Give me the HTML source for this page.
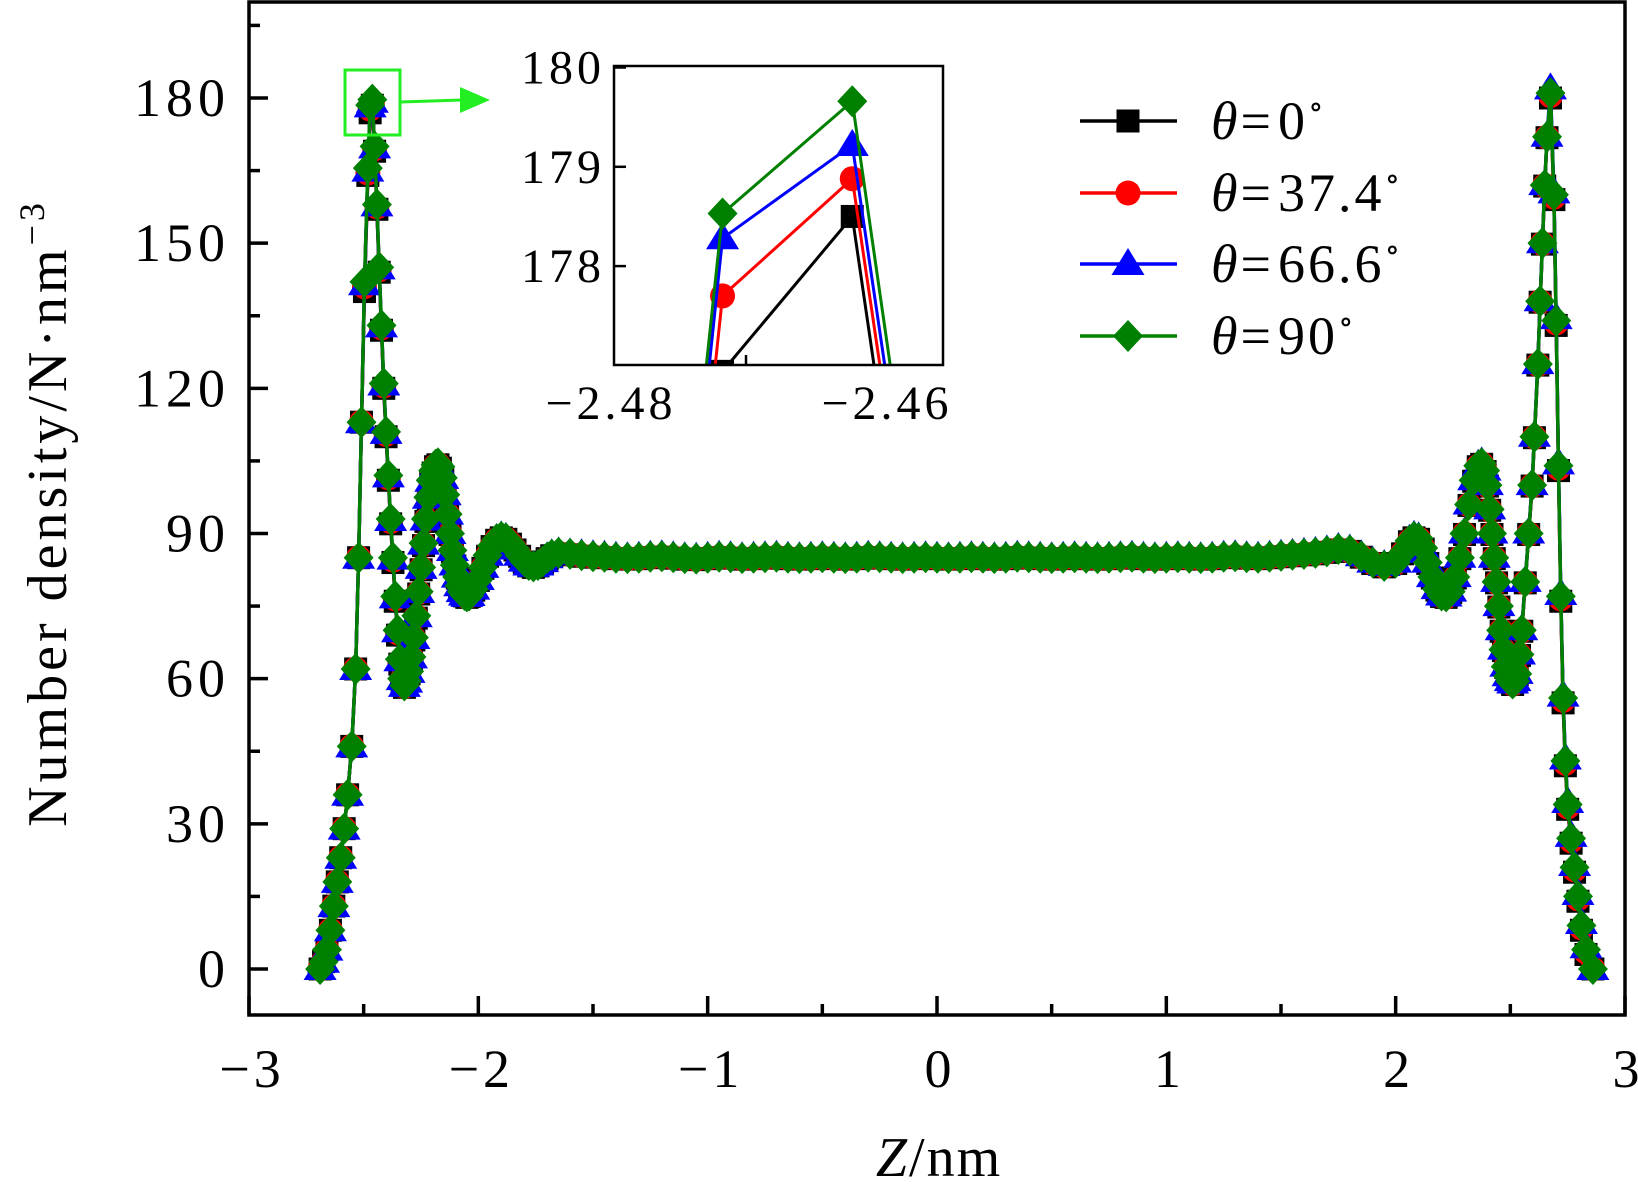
<!DOCTYPE html>
<html><head><meta charset="utf-8"><style>
html,body{margin:0;padding:0;background:#fff;width:1638px;height:1191px;overflow:hidden}
svg{display:block}
text{font-family:"Liberation Serif","DejaVu Serif",serif;fill:#000}
</style></head><body>
<svg id="chart" width="1638" height="1191" viewBox="0 0 1638 1191" xmlns="http://www.w3.org/2000/svg">
<defs><clipPath id="mainClip"><rect x="249" y="2" width="1376" height="1013"/></clipPath>
<clipPath id="insetClip"><rect x="614" y="66" width="329" height="299"/></clipPath></defs>
<rect x="0" y="0" width="1638" height="1191" fill="#fff"/>
<g id="mainSeries" clip-path="url(#mainClip)"></g>
<rect x="249" y="2" width="1376" height="1013" fill="none" stroke="#000" stroke-width="3.5"/>
<g id="axes"></g>
<text x="939" y="1176" font-size="56" letter-spacing="2" text-anchor="middle"><tspan font-style="italic">Z</tspan>/nm</text>
<text transform="translate(66,513) rotate(-90)" font-size="56" letter-spacing="4" text-anchor="middle">Number density/N·nm<tspan dy="-22" font-size="36">−3</tspan></text>
<rect x="345" y="70" width="55" height="65" fill="none" stroke="#22ee22" stroke-width="3"/>
<line x1="400" y1="102" x2="462" y2="100" stroke="#22ee22" stroke-width="3"/>
<polygon points="460,87 490,100 460,113" fill="#22ee22"/>
<rect x="614" y="66" width="329" height="299" fill="#fff"/>
<g id="insetSeries" clip-path="url(#insetClip)"></g>
<rect x="614" y="66" width="329" height="299" fill="none" stroke="#000" stroke-width="2.5"/>
<g id="insetAxes"></g>
<g id="legend"></g>
</svg>
<script>
const zValues=[-2.69,-2.675,-2.66,-2.645,-2.63,-2.615,-2.6,-2.585,-2.57,-2.552,-2.535,-2.522,-2.5095,-2.4965,-2.4817,-2.4717,-2.4623,
-2.4523,-2.4423,-2.4323,-2.4223,-2.4123,-2.4023,-2.3923,-2.3823,-2.3723,-2.3623,-2.3523,-2.3423,-2.3323,-2.3223,
-2.3125,-2.302,-2.2915,-2.281,-2.2705,-2.26,-2.2495,-2.239,-2.2285,-2.218,-2.2075,-2.197,-2.1865,-2.176,-2.1655,-2.155,-2.1445,-2.134,-2.1235,-2.113,-2.1025,-2.092,-2.0815,-2.071,-2.0605,-2.05,-2.04,
-2.02,-2,-1.98,-1.96,-1.94,-1.92,-1.9,-1.88,-1.86,-1.84,-1.82,-1.8,-1.78,-1.76,-1.74,-1.72,-1.7,-1.68,-1.65,-1.6,
-1.55,-1.5,-1.45,-1.4,-1.35,-1.3,-1.25,-1.2,-1.15,-1.1,-1.05,-1,-0.95,-0.9,-0.85,-0.8,-0.75,-0.7,-0.65,-0.6,-0.55,-0.5,-0.45,-0.4,-0.35,-0.3,-0.25,-0.2,-0.15,-0.1,-0.05,0,0.05,0.1,0.15,0.2,0.25,0.3,0.35,0.4,0.45,0.5,0.55,0.6,0.65,0.7,0.75,0.8,0.85,0.9,0.95,1,1.05,1.1,1.15,1.2,1.25,1.3,1.35,1.4,1.45,1.5,1.55,
1.6,1.65,1.7,1.75,1.8,1.85,1.9,1.95,2,2.03,2.06,2.08,2.1,2.12,2.14,2.16,2.18,2.2,2.22,2.24,2.26,2.28,2.3,2.32,2.34,2.36,2.375,2.39,2.4,2.41,2.42,2.43,2.44,2.45,2.46,2.47,2.48,2.49,2.5,2.51,2.52,2.53,2.54,2.55,2.565,2.58,2.595,2.605,2.62,2.63,2.64,2.65,2.66,2.675,2.69,2.7,2.71,2.72,2.73,2.74,2.75,2.765,2.78,2.795,2.81,2.83,2.86];

const densityTheta0=[0,1.5,4,8,13,18,23,29,36,46,62,85,113,140,164,176.94,178.5,
169,157,144,132,120,110,101,92,84,76,69,63,59.5,58.2,
59,61,64,68,72.5,77.5,82.5,87.5,92.5,97,100.5,102.5,103.8,104.2,103.5,101.2,97.8,93.8,89.8,86.3,83.3,80.8,79,77.8,77.1,76.8,77,
78.3,80.3,82.8,85.3,87.3,88.6,89.1,88.8,87.8,86.6,85.3,84.1,83.3,83,83.3,84,84.8,85.4,85.8,85.6,
85.3,85.1,85,84.8,84.7,84.8,85,85.1,84.9,84.7,84.6,84.8,85,84.9,84.7,84.8,84.9,85,84.8,84.7,84.8,84.9,84.8,84.7,84.8,85,84.9,84.8,84.7,84.8,84.9,84.8,84.7,84.8,84.9,84.8,84.7,84.8,85,84.9,84.8,84.7,84.8,84.9,84.8,84.7,84.8,84.9,85,84.8,84.7,84.8,84.9,84.8,84.7,84.8,85,85.1,84.9,84.8,85,85.2,85.4,
85.6,85.8,86.1,86.6,86.3,85.1,83.8,83.1,83.8,85.8,88.3,89.1,88.8,86.8,83.8,80.8,78.3,77,76.8,77.8,80.8,84.8,89.8,95.8,100.8,103.8,104.3,102.8,99.8,94.8,89.8,84.8,79.8,74.8,69.8,65.8,62.3,60.3,59.3,58.8,59.3,60.8,64.8,69.8,79.8,89.8,99.8,109.8,124.8,137.8,149.8,161.8,171.8,180,159,133,103,76,55,42,33,26,20,14,8,3,0];

const densityTheta37=[0,1.5,4,8,13,18,23,29,36,46,62,85,113,141,164.5,177.7,178.88,
169.5,157.5,144.5,132.5,120.5,110.5,101.5,92.5,84.5,76.5,69.5,63.5,59.8,58.4,
59.3,61.3,64.3,68.3,72.8,77.8,82.8,87.8,92.8,97.3,100.8,102.8,104,104.3,103.6,101.3,97.9,93.9,89.9,86.4,83.4,80.9,79.1,77.9,77.2,76.9,77.1,
78.4,80.4,82.9,85.4,87.4,88.7,89.2,88.9,87.9,86.7,85.4,84.2,83.4,83.1,83.4,84.1,84.9,85.5,85.9,85.7,
85.4,85.2,85.1,84.9,84.8,84.9,85.1,85.2,85,84.8,84.7,84.9,85.1,85,84.8,84.9,85,85.1,84.9,84.8,84.9,85,84.9,84.8,84.9,85.1,85,84.9,84.8,84.9,85,84.9,84.8,84.9,85,84.9,84.8,84.9,85.1,85,84.9,84.8,84.9,85,84.9,84.8,84.9,85,85.1,84.9,84.8,84.9,85,84.9,84.8,84.9,85.1,85.2,85,84.9,85.1,85.3,85.5,
85.7,85.9,86.2,86.7,86.4,85.2,83.9,83.2,83.9,85.9,88.4,89.2,88.9,86.9,83.9,80.9,78.4,77.1,76.9,77.9,80.9,84.9,89.9,95.9,100.9,103.9,104.4,102.9,99.9,94.9,89.9,84.9,79.9,74.9,69.9,65.9,62.4,60.4,59.4,58.9,59.4,60.9,64.9,69.9,79.9,89.9,99.9,109.9,124.9,137.9,149.9,161.9,171.9,180.5,159.5,133.5,103.5,76.5,55.5,42.5,33.5,26.5,20.5,14.5,8.5,3.5,0];

const densityTheta66=[0,1.5,4,8,13,18,23,29,36,46,62,85,113,141.5,165,178.28,179.22,
169.8,157.8,144.8,132.8,120.8,110.8,101.8,92.8,84.8,76.8,69.8,63.8,59.9,58.5,
59.4,61.4,64.4,68.4,72.9,77.9,82.9,87.9,92.9,97.4,100.9,102.9,104.1,104.5,103.8,101.5,98.1,94.1,90.1,86.6,83.6,81.1,79.3,78.1,77.4,77.1,77.3,
78.6,80.6,83.1,85.6,87.6,88.9,89.4,89.1,88.1,86.9,85.6,84.4,83.6,83.3,83.6,84.3,85.1,85.7,86.1,85.9,
85.7,85.5,85.4,85.2,85.1,85.2,85.4,85.5,85.3,85.1,85,85.2,85.4,85.3,85.1,85.2,85.3,85.4,85.2,85.1,85.2,85.3,85.2,85.1,85.2,85.4,85.3,85.2,85.1,85.2,85.3,85.2,85.1,85.2,85.3,85.2,85.1,85.2,85.4,85.3,85.2,85.1,85.2,85.3,85.2,85.1,85.2,85.3,85.4,85.2,85.1,85.2,85.3,85.2,85.1,85.2,85.4,85.5,85.3,85.2,85.4,85.6,85.8,
86,86.2,86.5,87,86.7,85.5,84.2,83.5,84.2,86.2,88.7,89.5,89.2,87.2,84.2,81.2,78.7,77.4,77.2,78.2,81.2,85.2,90.2,96.2,101.2,104.2,104.7,103.2,100.2,95.2,90.2,85.2,80.2,75.2,70.2,66.2,62.7,60.7,59.7,59.2,59.7,61.2,65.2,70.2,80.2,90.2,100.2,110.2,125.2,138.2,150.2,162.2,172.2,182,160.5,134.5,104.5,77.5,56.5,43.5,34.5,27.5,21.5,15.5,9.5,4.5,0];

const densityTheta90=[0,1.5,4,8,13,18,23,29,36,46,62,85,113,142,165.5,178.53,179.66,
170,158,145,133,121,111,102,93,85,77,70,64,60,58.6,
59.5,61.5,64.5,68.5,73,78,83,88,93,97.5,101,103,104.2,104.5,103.8,101.5,98,94,90,86.5,83.5,81,79.2,78,77.3,77,77.2,
78.5,80.5,83,85.5,87.5,88.8,89.3,89,88,86.8,85.5,84.3,83.5,83.2,83.5,84.2,85,85.6,86,85.8,
85.5,85.3,85.2,85,84.9,85,85.2,85.3,85.1,84.9,84.8,85,85.2,85.1,84.9,85,85.1,85.2,85,84.9,85,85.1,85,84.9,85,85.2,85.1,85,84.9,85,85.1,85,84.9,85,85.1,85,84.9,85,85.2,85.1,85,84.9,85,85.1,85,84.9,85,85.1,85.2,85,84.9,85,85.1,85,84.9,85,85.2,85.3,85.1,85,85.2,85.4,85.6,
85.8,86,86.3,86.8,86.5,85.3,84,83.3,84,86,88.5,89.3,89,87,84,81,78.5,77.2,77,78,81,85,90,96,101,104,104.5,103,100,95,90,85,80,75,70,66,62.5,60.5,59.5,59,59.5,61,65,70,80,90,100,110,125,138,150,162,172,181,160,134,104,77,56,43,34,27,21,15,9,4,0];

const seriesLabels=["0","37.4","66.6","90"];
const xTickLabels=["−3","−2","−1","0","1","2","3"];
const xTickValues=[-3,-2,-1,0,1,2,3];
const yTickValues=[0,30,60,90,120,150,180];
const insetYTicks=[178,179,180];
const insetXTicks=[-2.48,-2.46];
const insetXTickLabels=["−2.48","−2.46"];

const NS="http://www.w3.org/2000/svg";
function mk(tag,attrs,parent){const e=document.createElementNS(NS,tag);for(const k in attrs)e.setAttribute(k,attrs[k]);parent.appendChild(e);return e;}
const xMain=v=>249+(v+3)/6*1376;
const yMain=v=>969-v*(871/180);
const xIn=v=>608+(v+2.48)*13800;
const yIn=v=>67.5+(180-v)*99.3;

const seriesDefs=[
 {vals:densityTheta0,color:"#000000",shape:"square",name:"theta-0"},
 {vals:densityTheta37,color:"#ff0000",shape:"circle",name:"theta-37-4"},
 {vals:densityTheta66,color:"#0000ff",shape:"triangle",name:"theta-66-6"},
 {vals:densityTheta90,color:"#008000",shape:"diamond",name:"theta-90"}];

function marker(shape,cx,cy,color,parent,sc){
 let e;
 if(shape==="square")e=mk("rect",{x:cx-11.5*sc,y:cy-11.5*sc,width:23*sc,height:23*sc,fill:color},parent);
 else if(shape==="circle")e=mk("circle",{cx:cx,cy:cy,r:12.5*sc,fill:color},parent);
 else if(shape==="triangle")e=mk("polygon",{points:`${cx},${cy-16*sc} ${cx+16.5*sc},${cy+11*sc} ${cx-16.5*sc},${cy+11*sc}`,fill:color},parent);
 else e=mk("polygon",{points:`${cx},${cy-16*sc} ${cx+15*sc},${cy} ${cx},${cy+16*sc} ${cx-15*sc},${cy}`,fill:color},parent);
 return e;
}

function drawSeries(parent,xf,yf,lw,sc){
 seriesDefs.forEach(s=>{
  const g=mk("g",{},parent);
  
  
  const n=Math.min(zValues.length,s.vals.length);
  let pts=[];for(let i=0;i<n;i++)pts.push(xf(zValues[i]).toFixed(2)+","+yf(s.vals[i]).toFixed(2));
  const pl=mk("polyline",{points:pts.join(" "),fill:"none",stroke:s.color,"stroke-width":lw,"stroke-linejoin":"round"},g);
  
  
  for(let i=0;i<n;i++){
   const m=marker(s.shape,xf(zValues[i]),yf(s.vals[i]),s.color,g,sc);
   
   
  }
 });
}
drawSeries(document.getElementById("mainSeries"),xMain,yMain,3.5,1);
drawSeries(document.getElementById("insetSeries"),xIn,yIn,3,1);

const ax=document.getElementById("axes");
xTickValues.forEach((v,i)=>{
 const t=mk("line",{x1:xMain(v),x2:xMain(v),y1:1015,y2:996,stroke:"#000","stroke-width":3.5},ax);
 
 
 if(i<xTickValues.length-1){const mv=v+0.5;const m=mk("line",{x1:xMain(mv),x2:xMain(mv),y1:1015,y2:1004,stroke:"#000","stroke-width":3.5},ax);
 
 }
 const lb=mk("text",{x:xMain(v)+3,y:1087,"font-size":54,"letter-spacing":4,"text-anchor":"middle"},ax);lb.textContent=xTickLabels[i];
 
 
});
yTickValues.forEach((v,i)=>{
 const t=mk("line",{x1:249,x2:268,y1:yMain(v),y2:yMain(v),stroke:"#000","stroke-width":3.5},ax);
 
 
 const mv=v+15;const m=mk("line",{x1:249,x2:260,y1:yMain(mv),y2:yMain(mv),stroke:"#000","stroke-width":3.5},ax);
 
 
 const lb=mk("text",{x:230,y:yMain(v)+18,"font-size":54,"letter-spacing":5,"text-anchor":"end"},ax);lb.textContent=String(v);
 
 
});

const ia=document.getElementById("insetAxes");
insetYTicks.forEach(v=>{
 const t=mk("line",{x1:614,x2:626,y1:yIn(v),y2:yIn(v),stroke:"#000","stroke-width":2.5},ia);
 
 
 const lb=mk("text",{x:605,y:yIn(v)+16,"font-size":48,"letter-spacing":4,"text-anchor":"end"},ia);lb.textContent=String(v);
 
 
});
{const t=mk("line",{x1:xIn(-2.47),x2:xIn(-2.47),y1:365,y2:355,stroke:"#000","stroke-width":2.5},ia);
 
 }
insetXTicks.forEach((v,i)=>{
 const lb=mk("text",{x:xIn(v)+3,y:419,"font-size":48,"letter-spacing":4,"text-anchor":"middle"},ia);lb.textContent=insetXTickLabels[i];
 
 
});

const lg=document.getElementById("legend");
const legY=[121,193,264,336];
seriesDefs.forEach((s,i)=>{
 const g=mk("g",{},lg);
 
 
 mk("line",{x1:1080,x2:1177,y1:legY[i],y2:legY[i],stroke:s.color,"stroke-width":3.5},g);
 marker(s.shape,1128,legY[i],s.color,g,1);
 const t=mk("text",{x:1211,y:legY[i]+18,"font-size":54,"letter-spacing":3},g);
 t.innerHTML='<tspan font-style="italic">θ</tspan>=<tspan dx="4">'+seriesLabels[i]+'</tspan><tspan dy="-22" font-size="32">∘</tspan>';
});
</script>
</body></html>
